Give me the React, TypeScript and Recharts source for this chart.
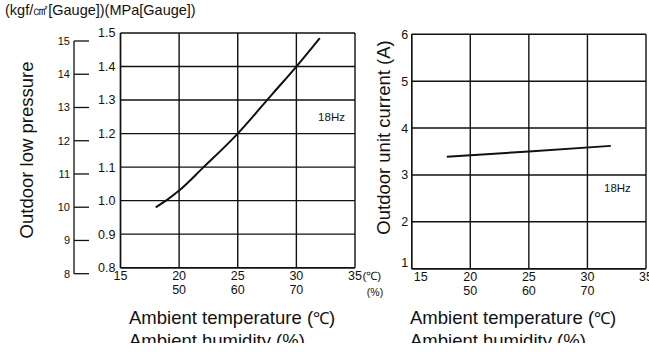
import { LineChart, Line, XAxis, YAxis, CartesianGrid, ReferenceDot } from "recharts"

const FONT = "'Liberation Sans', Arial, Helvetica, sans-serif"
const INK = "#111"

// shared x axis: ambient temperature (℃) with humidity (%) under it
const tempTicks = [15, 20, 25, 30, 35]
const humidityLabels = ["", "50", "60", "70", ""]

// outdoor low pressure, MPa[Gauge]
const pressureTemps = [18, 19, 20, 22, 25, 28, 30, 32]
const pressureMPa = [0.98, 1.003, 1.03, 1.097, 1.2, 1.32, 1.4, 1.485]
const mpaTicks = [0.8, 0.9, 1.0, 1.1, 1.2, 1.3, 1.4, 1.5]
const kgfTicks = [8, 9, 10, 11, 12, 13, 14, 15]

// outdoor unit current, A
const currentTemps = [18, 25, 32]
const currentAmps = [3.39, 3.5, 3.62]
const ampTicks = [1, 2, 3, 4, 5, 6]

// where the "18Hz" notes sit, in data units
const pressureNote = { temp: 33.0, value: 1.25 }
const currentNote = { temp: 32.56, value: 2.72 }

const pressureData = pressureTemps.map((t, i) => ({ temp: t, mpa: pressureMPa[i] }))
const currentData = currentTemps.map((t, i) => ({ temp: t, amps: currentAmps[i] }))

function TempTick({ x, y, payload, unitMark, firstDx = 0 }: any) {
  const i = tempTicks.indexOf(payload.value)
  const last = i === tempTicks.length - 1
  return (
    <g fontFamily={FONT} fill={INK}>
      <text x={x + (i === 0 ? firstDx : 0)} y={y + 12} textAnchor="middle" fontSize={12.5}>
        {payload.value}
      </text>
      {humidityLabels[i] && (
        <text x={x} y={y + 26} textAnchor="middle" fontSize={12.5}>
          {humidityLabels[i]}
        </text>
      )}
      {last && unitMark && (
        <>
          <text x={x + 7.5} y={y + 12} fontSize={11.5}>(℃)</text>
          <text x={x + 20} y={y + 28} textAnchor="middle" fontSize={10.5}>(%)</text>
        </>
      )}
    </g>
  )
}

function KgfTick({ x, y, payload }: any) {
  return (
    <g>
      <line x1={x} x2={x + 15} y1={y} y2={y} stroke={INK} strokeWidth={1.3} />
      <text x={x - 4} y={y + 4} textAnchor="end" fontSize={11} fontFamily={FONT} fill={INK}>
        {payload.value}
      </text>
    </g>
  )
}

function AmpTick({ x, y, payload }: any) {
  // the bottom "1" is lifted clear of the "15"
  const lift = payload.value === ampTicks[0] ? -6 : 0
  return (
    <text x={x} y={y + 4.5 + lift} textAnchor="end" fontSize={12.5} fontFamily={FONT} fill={INK}>
      {payload.value}
    </text>
  )
}

function XTitle({ x }: { x: number }) {
  return (
    <g fontFamily={FONT} fontSize={18.5} fill={INK}>
      <text x={x} y={324}>
        Ambient temperature (<tspan fontSize={16.5}>℃</tspan>)
      </text>
      <text x={x} y={346.5}>Ambient humidity (%)</text>
    </g>
  )
}

function YTitle({ x, y, text }: { x: number; y: number; text: string }) {
  return (
    <text
      x={x}
      y={y}
      transform={`rotate(-90 ${x} ${y})`}
      textAnchor="middle"
      dominantBaseline="central"
      fontFamily={FONT}
      fontSize={18.5}
      fill={INK}
    >
      {text}
    </text>
  )
}

export default function App() {
  return (
    <div
      style={{
        position: "absolute",
        left: 0,
        top: 0,
        width: 649,
        height: 343,
        overflow: "hidden",
        background: "#fff",
      }}
    >
      {/* unit caption */}
      <div
        style={{
          position: "absolute",
          left: 5,
          top: 2,
          fontFamily: FONT,
          fontSize: 14.5,
          lineHeight: "16px",
          color: INK,
          whiteSpace: "nowrap",
        }}
      >
        (kgf/㎠[Gauge])(MPa[Gauge])
      </div>

      {/* pressure chart */}
      <div style={{ position: "absolute", left: 0, top: 0 }}>
        <LineChart
          width={400}
          height={352}
          data={pressureData}
          margin={{ top: 33, right: 45, bottom: 0, left: 0 }}
        >
          <CartesianGrid stroke={INK} strokeWidth={1.4} />
          <XAxis
            dataKey="temp"
            type="number"
            domain={[15, 35]}
            ticks={tempTicks}
            height={84.3}
            tickSize={0}
            tickMargin={0}
            axisLine={{ stroke: INK, strokeWidth: 1.4 }}
            tickLine={false}
            tick={(p: any) => <TempTick {...p} unitMark />}
            label={() => <XTitle x={129} />}
          />
          <YAxis
            type="number"
            domain={[0.8, 1.5]}
            ticks={mpaTicks}
            width={120.5}
            tickSize={0}
            tickMargin={5}
            axisLine={{ stroke: INK, strokeWidth: 1.4 }}
            tickLine={false}
            tickFormatter={(v: number) => v.toFixed(1)}
            tick={{ fontSize: 12.5, fill: INK, fontFamily: FONT }}
            label={() => <YTitle x={26} y={150} text="Outdoor low pressure" />}
          />
          <Line
            type="monotone"
            dataKey="mpa"
            stroke={INK}
            strokeWidth={2}
            dot={false}
            isAnimationActive={false}
          />
          <ReferenceDot
            x={pressureNote.temp}
            y={pressureNote.value}
            r={0}
            stroke="none"
            fill="none"
            ifOverflow="visible"
            label={{ value: "18Hz", position: "center", fontSize: 11.5, fill: INK, fontFamily: FONT }}
          />
        </LineChart>
      </div>

      {/* kgf/㎠ companion scale */}
      <div style={{ position: "absolute", left: 0, top: 0 }}>
        <LineChart
          width={100}
          height={352}
          data={pressureData}
          margin={{ top: 41, right: 0, bottom: 78.3, left: 0 }}
        >
          <XAxis hide dataKey="temp" type="number" domain={[15, 35]} height={0} />
          <YAxis
            type="number"
            domain={[8, 15]}
            allowDataOverflow
            ticks={kgfTicks}
            width={74}
            tickSize={0}
            tickMargin={0}
            axisLine={{ stroke: INK, strokeWidth: 1.3 }}
            tickLine={false}
            tick={(p: any) => <KgfTick {...p} />}
          />
        </LineChart>
      </div>

      {/* current chart */}
      <div style={{ position: "absolute", left: 300, top: 0 }}>
        <LineChart
          width={360}
          height={352}
          data={currentData}
          margin={{ top: 34.3, right: 14, bottom: 0, left: 0 }}
        >
          <CartesianGrid stroke={INK} strokeWidth={1.4} />
          <XAxis
            dataKey="temp"
            type="number"
            domain={[15, 35]}
            ticks={tempTicks}
            height={83.3}
            tickSize={0}
            tickMargin={0}
            axisLine={{ stroke: INK, strokeWidth: 1.4 }}
            tickLine={false}
            tick={(p: any) => <TempTick {...p} firstDx={9} />}
            label={() => <XTitle x={110} />}
          />
          <YAxis
            type="number"
            domain={[1, 6]}
            ticks={ampTicks}
            width={111.7}
            tickSize={0}
            tickMargin={3.5}
            axisLine={{ stroke: INK, strokeWidth: 1.4 }}
            tickLine={false}
            tick={(p: any) => <AmpTick {...p} />}
            label={() => <YTitle x={83} y={137.5} text="Outdoor unit current (A)" />}
          />
          <Line
            type="linear"
            dataKey="amps"
            stroke={INK}
            strokeWidth={2}
            dot={false}
            isAnimationActive={false}
          />
          <ReferenceDot
            x={currentNote.temp}
            y={currentNote.value}
            r={0}
            stroke="none"
            fill="none"
            ifOverflow="visible"
            label={{ value: "18Hz", position: "center", fontSize: 11.5, fill: INK, fontFamily: FONT }}
          />
        </LineChart>
      </div>
    </div>
  )
}
